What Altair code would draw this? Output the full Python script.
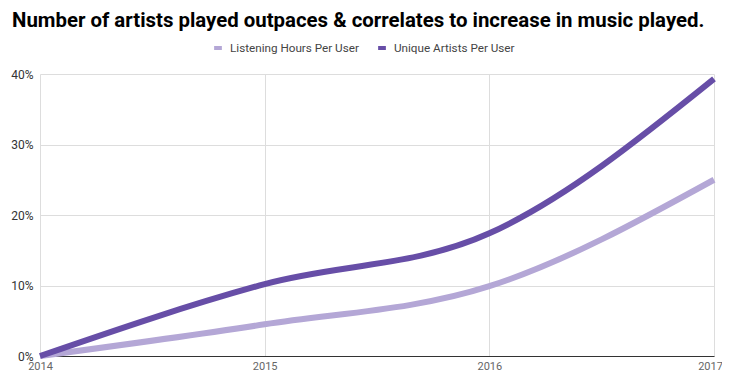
import altair as alt
import pandas as pd

years = [2014, 2015, 2016, 2017]
listening = [0.0, 0.045, 0.099, 0.25]
unique = [0.0, 0.102, 0.174, 0.393]
series_names = ["Listening Hours Per User", "Unique Artists Per User"]
colors = ["#b4a7d6", "#674ea7"]

rows = []
for y, v in zip(years, listening):
    rows.append({"year": y, "value": v, "series": series_names[0]})
for y, v in zip(years, unique):
    rows.append({"year": y, "value": v, "series": series_names[1]})
df = pd.DataFrame(rows)

chart = alt.Chart(df).mark_line(strokeWidth=6, interpolate="monotone", strokeCap="butt").encode(
    x=alt.X("year:Q", scale=alt.Scale(domain=[2014, 2017], nice=False),
            axis=alt.Axis(values=years, format="d", title=None, tickSize=0, labelPadding=4,
                          labelColor="#666666", labelFontSize=11, labelFont="Roboto",
                          labelOffset={"condition": {"test": "datum.value == 2017", "value": -4}, "value": 0},
                          grid=True, gridColor="#dddddd", domain=True, domainColor="#333333",
                          labelFlush=False)),
    y=alt.Y("value:Q", scale=alt.Scale(domain=[0, 0.4], nice=False),
            axis=alt.Axis(values=[0, 0.1, 0.2, 0.3, 0.4], format=".0%", title=None, tickSize=0,
                          labelPadding=7, labelColor="#333333", labelFontSize=12, labelFont="Roboto",
                          grid=True, gridColor="#dddddd", domain=False)),
    color=alt.Color("series:N", scale=alt.Scale(domain=series_names, range=colors),
                    legend=alt.Legend(orient="none", legendX=172, legendY=-32, direction="horizontal",
                                      title=None, symbolType="stroke", symbolStrokeWidth=4,
                                      symbolSize=60, labelOffset=6,
                                      labelFontSize=11.7, labelFont="Roboto", labelColor="#444444",
                                      columnPadding=11)),
).properties(
    width=674, height=282,
    title=alt.TitleParams("Number of artists played outpaces & correlates to increase in music played.",
                          anchor="start", font="Roboto", fontSize=20.4, fontWeight="bold",
                          color="#000000", frame="group", dx=-28, offset=11),
    autosize=alt.AutoSizeParams(type="none"),
    padding={"left": 32, "top": 66, "right": 8, "bottom": 20},
).configure_view(stroke=None)

chart.save("out.html", embed_options={"renderer": "svg", "actions": False})
